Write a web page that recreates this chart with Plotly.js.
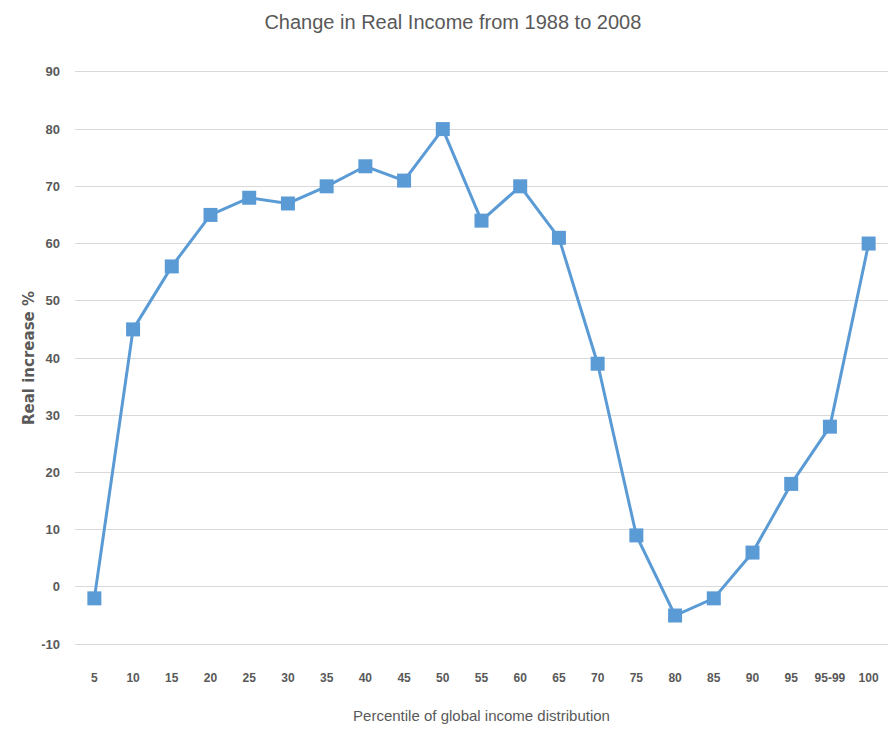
<!DOCTYPE html>
<html>
<head>
<meta charset="utf-8">
<script src="https://cdn.plot.ly/plotly-3.0.1.min.js"></script>
<style>html,body{margin:0;padding:0;background:#fff;}#chart{width:888px;height:731px;}</style>
</head>
<body>
<div id="chart"></div>
<script>
const percentiles = ["5","10","15","20","25","30","35","40","45","50","55","60","65","70","75","80","85","90","95","95-99","100"];
const realIncrease = [-2,45,56,65,68,67,70,73.5,71,80,64,70,61,39,9,-5,-2,6,18,28,60];
const yTickVals = [-10,0,10,20,30,40,50,60,70,80,90];
const yTickText = ["-10","0","10","20","30","40","50","60","70","80","90"];

const font = "Liberation Sans, Arial, sans-serif";
const trace = {
  x: percentiles,
  y: realIncrease,
  type: "scatter",
  mode: "lines+markers",
  line: {color: "#5B9BD5", width: 3},
  marker: {symbol: "square", size: 14, color: "#5B9BD5"},
  hoverinfo: "x+y"
};

const layout = {
  width: 888, height: 731,
  margin: {l: 75, r: 0, t: 69, b: 84},
  paper_bgcolor: "#fff", plot_bgcolor: "#fff",
  showlegend: false,
  title: {text: "Change in Real Income from 1988 to 2008", font: {family: font, size: 20, color: "#595959"}, x: 0.51, xanchor: "center", y: 0.97, yanchor: "middle"},
  xaxis: {
    type: "category", range: [-0.5, 20.5],
    showgrid: false, zeroline: false, showline: false,
    ticks: "", ticklabelstandoff: 22,
    tickfont: {family: font, size: 12, color: "#595959", weight: "bold"},
    title: {text: "Percentile of global income distribution", font: {family: font, size: 15, color: "#595959"}, standoff: 26}
  },
  yaxis: {
    range: [-10.5, 90.5], tickmode: "array", tickvals: yTickVals, ticktext: yTickText,
    showgrid: true, gridcolor: "#d9d9d9", gridwidth: 1,
    zeroline: false, showline: false, ticks: "", ticklabelstandoff: 14,
    tickfont: {family: font, size: 13, color: "#595959", weight: "bold"},
    title: {text: "Real increase %", font: {family: "DejaVu Sans, Verdana, sans-serif", size: 15, color: "#595959", weight: "bold"}, standoff: 2}
  }
};

Plotly.newPlot("chart", [trace], layout, {displayModeBar: false, staticPlot: true});
</script>
</body>
</html>
